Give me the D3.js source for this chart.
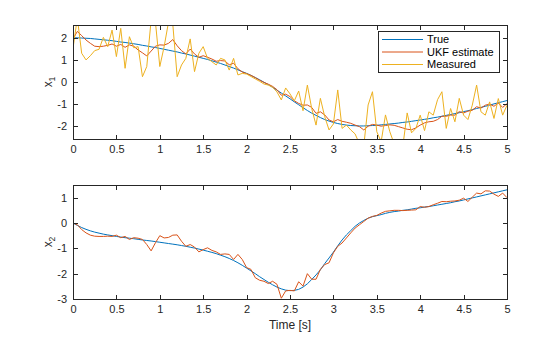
<!DOCTYPE html>
<html lang="en">
<head>
<meta charset="UTF-8">
<title>UKF state estimation</title>
<style>
    body { margin: 0; background: #fff; }
    svg { display: block; font-family: "Liberation Sans", Arial, sans-serif; }
    .axis path, .axis line { stroke: #262626; shape-rendering: crispEdges; }
    .axis text { fill: #262626; font-size: 11px; }
</style>
</head>
<body>
<svg id="chart" width="560" height="337"></svg>
<script src="https://d3js.org/d3.v7.min.js"></script>
<script>
    // sample time 0.05 s, 0 .. 5 s
    const dt = 0.05;

    const trueX1 = [2.00,2.00,1.99,1.98,1.97,1.95,1.93,1.91,1.89,1.87,
        1.84,1.81,1.79,1.76,1.73,1.70,1.66,1.63,1.59,1.56,
        1.52,1.48,1.44,1.40,1.36,1.31,1.27,1.22,1.17,1.12,
        1.07,1.02,0.96,0.90,0.84,0.77,0.70,0.63,0.55,0.47,
        0.39,0.30,0.20,0.10,-0.01,-0.12,-0.24,-0.37,-0.50,-0.63,
        -0.76,-0.90,-1.03,-1.16,-1.29,-1.41,-1.51,-1.61,-1.70,-1.77,
        -1.83,-1.88,-1.92,-1.95,-1.97,-1.98,-1.99,-1.99,-1.98,-1.97,
        -1.96,-1.94,-1.92,-1.90,-1.88,-1.86,-1.83,-1.81,-1.78,-1.75,
        -1.72,-1.69,-1.66,-1.62,-1.59,-1.55,-1.51,-1.47,-1.43,-1.39,
        -1.34,-1.30,-1.25,-1.20,-1.15,-1.10,-1.05,-0.99,-0.94,-0.89,
        -0.84];

    const ukfX1 = [1.95,2.29,2.10,1.90,1.75,1.62,1.60,1.62,1.66,1.72,
        1.62,1.70,1.57,1.68,1.62,1.45,1.32,1.18,1.40,1.62,
        1.68,1.67,1.75,1.92,1.64,1.42,1.27,1.49,1.27,1.12,
        1.19,1.12,1.04,0.94,0.97,0.95,0.78,0.85,0.60,0.45,
        0.38,0.30,0.20,0.08,-0.02,-0.10,-0.20,-0.35,-0.60,-0.55,
        -0.66,-0.85,-0.97,-1.05,-1.04,-1.15,-1.42,-1.35,-1.49,-1.72,
        -1.80,-1.70,-1.78,-1.82,-1.87,-1.95,-2.02,-2.17,-2.00,-1.92,
        -1.95,-2.00,-1.97,-1.94,-1.96,-2.02,-2.08,-2.14,-2.16,-2.08,
        -1.95,-1.85,-1.80,-1.78,-1.70,-1.55,-1.55,-1.50,-1.50,-1.34,
        -1.40,-1.32,-1.28,-1.12,-1.18,-1.05,-1.00,-1.10,-0.95,-1.15,
        -0.98];

    const measX1 = [1.52,2.90,1.30,1.00,1.19,1.42,1.48,2.02,1.60,2.35,
        1.15,2.43,0.62,2.05,1.55,1.60,0.24,0.70,2.80,2.70,
        0.70,1.60,2.70,2.60,0.24,0.77,1.07,1.95,0.47,1.30,
        1.60,1.07,0.92,0.77,1.07,1.00,0.54,1.07,0.32,0.39,
        0.36,0.25,0.14,0.03,-0.09,-0.14,-0.24,-0.45,-0.81,-0.27,
        -0.54,-0.85,-0.41,-1.30,-0.14,-1.20,-1.95,-0.74,-1.57,-2.17,
        -1.90,-0.36,-2.10,-1.95,-2.17,-2.35,-2.80,-2.90,-1.04,-0.44,
        -2.25,-2.70,-1.49,-2.25,-2.80,-2.60,-2.90,-1.40,-2.30,-2.10,
        -1.50,-2.20,-1.35,-1.50,-0.80,-0.44,-2.10,-1.20,-1.80,-0.74,
        -1.50,-1.70,-1.05,-0.14,-1.35,-1.50,-0.90,-1.65,-0.75,-1.50,
        -1.05];

    const trueX2 = [0,-0.095,-0.18,-0.25,-0.31,-0.36,-0.40,-0.44,-0.47,-0.50,
        -0.53,-0.555,-0.58,-0.60,-0.62,-0.645,-0.67,-0.69,-0.71,-0.735,
        -0.76,-0.785,-0.81,-0.835,-0.86,-0.89,-0.92,-0.955,-0.99,-1.03,
        -1.07,-1.115,-1.16,-1.21,-1.27,-1.33,-1.40,-1.48,-1.57,-1.67,
        -1.78,-1.89,-2.00,-2.12,-2.23,-2.34,-2.44,-2.53,-2.60,-2.65,
        -2.67,-2.66,-2.62,-2.53,-2.40,-2.23,-2.05,-1.85,-1.60,-1.38,
        -1.15,-0.90,-0.67,-0.47,-0.30,-0.13,0.00,0.10,0.19,0.25,
        0.29,0.33,0.38,0.42,0.45,0.47,0.50,0.52,0.55,0.58,
        0.60,0.63,0.65,0.68,0.71,0.74,0.77,0.80,0.84,0.87,
        0.91,0.95,0.99,1.03,1.07,1.11,1.15,1.19,1.23,1.27,
        1.31];

    const ukfX2 = [0,-0.07,-0.26,-0.39,-0.48,-0.52,-0.53,-0.53,-0.52,-0.53,
        -0.48,-0.58,-0.53,-0.65,-0.58,-0.60,-0.65,-0.85,-1.10,-0.78,
        -0.50,-0.59,-0.57,-0.48,-0.47,-0.72,-0.92,-0.85,-0.95,-1.14,
        -1.05,-0.98,-1.08,-1.14,-1.24,-1.22,-1.24,-1.44,-1.24,-1.44,
        -1.76,-1.83,-2.16,-2.26,-2.30,-2.39,-2.30,-2.42,-2.97,-2.68,
        -2.66,-2.68,-2.32,-2.49,-2.00,-2.22,-2.22,-1.83,-1.64,-1.57,
        -1.18,-0.92,-0.79,-0.59,-0.39,-0.20,-0.07,0.06,0.19,0.26,
        0.30,0.39,0.46,0.48,0.50,0.50,0.49,0.50,0.51,0.52,
        0.65,0.62,0.65,0.72,0.78,0.85,0.84,0.86,0.87,0.90,
        0.98,0.85,1.02,1.18,1.15,1.27,1.26,1.14,1.05,1.18,
        1.00];

    const xTicks = [0, 0.5, 1, 1.5, 2, 2.5, 3, 3.5, 4, 4.5, 5];
    const y1Ticks = [-2, -1, 0, 1, 2];
    const y2Ticks = [-3, -2, -1, 0, 1];
    const legendNames = ["True", "UKF estimate", "Measured"];
    const colors = ["#0072BD", "#D95319", "#EDB120"];

    const svg = d3.select("#chart");
    const left = 73, right = 507;
    const fmt = d => String(d);

    const x = d3.scaleLinear().domain([0, 5]).range([left, right]);

    function panel(top, bottom, yDomain, yTicks, series, id, labelSub) {
        const y = d3.scaleLinear().domain(yDomain).range([bottom, top]);
        const g = svg.append("g");

        g.append("clipPath").attr("id", id)
            .append("rect").attr("x", left).attr("y", top)
            .attr("width", right - left).attr("height", bottom - top);

        const line = d3.line().x((d, i) => x(i * dt)).y(d => y(d));
        const lines = g.append("g").attr("clip-path", `url(#${id})`);
        series.forEach(s => {
            lines.append("path").datum(s.values)
                .attr("d", line)
                .attr("fill", "none")
                .attr("stroke", s.color)
                .attr("stroke-width", 1)
                .attr("stroke-linejoin", "round");
        });

        // axes with inward ticks on all four sides
        g.append("g").attr("class", "axis")
            .attr("transform", `translate(0,${bottom})`)
            .call(d3.axisBottom(x).tickValues(xTicks).tickFormat(fmt).tickSizeInner(-4.5).tickSizeOuter(0))
            .call(a => a.selectAll("text").attr("dy", "0.71em").attr("y", 6));
        g.append("g").attr("class", "axis")
            .attr("transform", `translate(0,${top})`)
            .call(d3.axisTop(x).tickValues(xTicks).tickSizeInner(-4.5).tickSizeOuter(0).tickFormat(""));
        g.append("g").attr("class", "axis")
            .attr("transform", `translate(${left},0)`)
            .call(d3.axisLeft(y).tickValues(yTicks).tickFormat(fmt).tickSizeInner(-4.5).tickSizeOuter(0))
            .call(a => a.selectAll("text").attr("x", -6));
        g.append("g").attr("class", "axis")
            .attr("transform", `translate(${right},0)`)
            .call(d3.axisRight(y).tickValues(yTicks).tickSizeInner(-4.5).tickSizeOuter(0).tickFormat(""));
        g.selectAll(".axis .domain").remove();
        g.append("rect").attr("x", left).attr("y", top)
            .attr("width", right - left).attr("height", bottom - top)
            .attr("fill", "none").attr("stroke", "#262626").attr("stroke-width", 1)
            .attr("shape-rendering", "crispEdges");

        const lab = g.append("text")
            .attr("transform", `translate(52,${(top + bottom) / 2}) rotate(-90)`)
            .attr("text-anchor", "middle")
            .attr("fill", "#262626").attr("font-size", "12px");
        lab.append("tspan").text("x");
        lab.append("tspan").attr("font-size", "8.5px").attr("dy", "3").text(labelSub);
        return g;
    }

    const top1 = panel(25, 139, [-2.58, 2.58], y1Ticks, [
        { values: trueX1, color: colors[0] },
        { values: ukfX1, color: colors[1] },
        { values: measX1, color: colors[2] }
    ], "clip1", "1");

    panel(185, 299, [-3, 1.5], y2Ticks, [
        { values: trueX2, color: colors[0] },
        { values: ukfX2, color: colors[1] }
    ], "clip2", "2");

    svg.append("text")
        .attr("x", (left + right) / 2).attr("y", 329)
        .attr("text-anchor", "middle")
        .attr("fill", "#262626").attr("font-size", "12px")
        .text("Time [s]");

    // legend
    const lg = top1.append("g").attr("transform", "translate(378,31)");
    lg.append("rect").attr("width", 121).attr("height", 41)
        .attr("fill", "#fff").attr("stroke", "#262626").attr("stroke-width", 1)
        .attr("shape-rendering", "crispEdges");
    legendNames.forEach((name, i) => {
        const row = lg.append("g").attr("transform", `translate(0,${8.5 + i * 12.5})`);
        row.append("line").attr("x1", 4).attr("x2", 45)
            .attr("stroke", colors[i]).attr("stroke-width", 1);
        row.append("text").attr("x", 49).attr("dy", "0.35em")
            .attr("fill", "#000").attr("font-size", "11px").text(name);
    });
</script>
</body>
</html>
